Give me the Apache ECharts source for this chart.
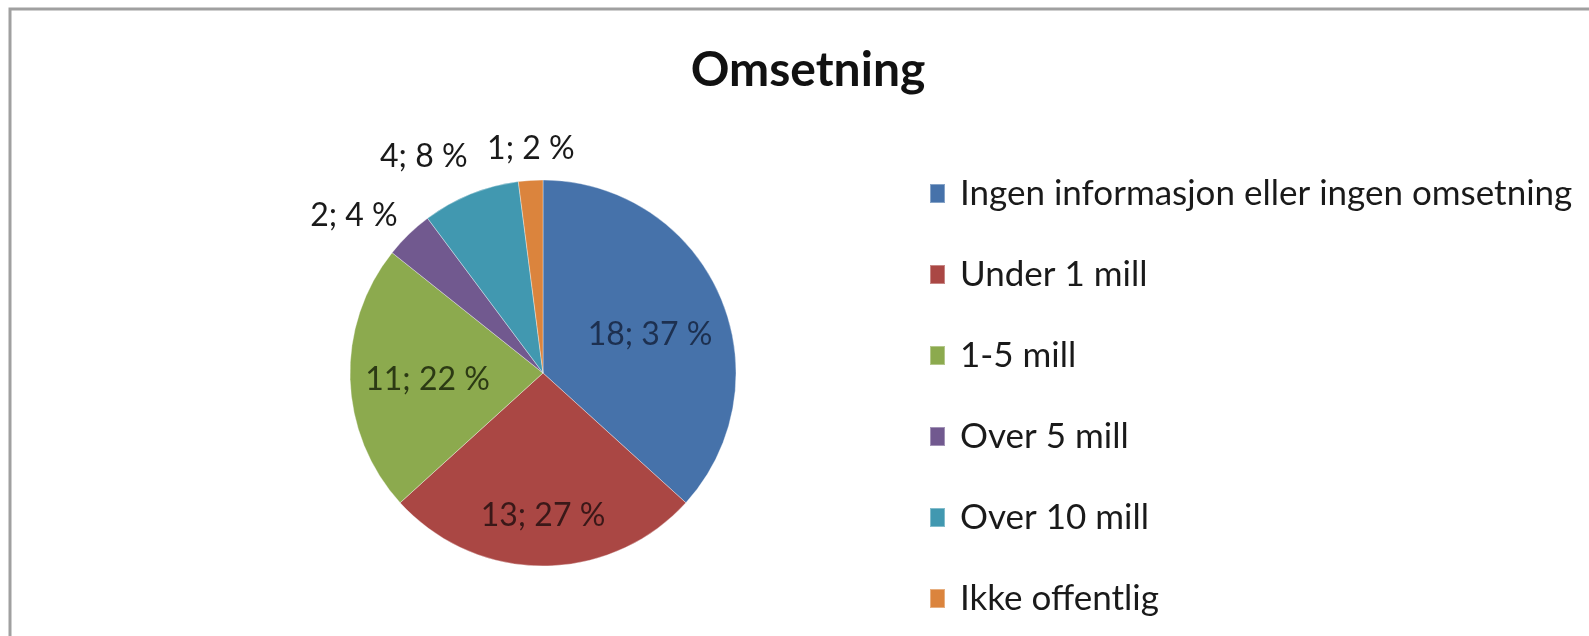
<!DOCTYPE html>
<html>
<head>
<meta charset="utf-8">
<title>Omsetning</title>
<script src="https://cdn.jsdelivr.net/npm/echarts@6/dist/echarts.min.js"></script>
<style>
  html, body { margin: 0; padding: 0; background: #fff; overflow: hidden; }
  #chart { width: 1589px; height: 636px; }
</style>
</head>
<body>
<div id="chart"></div>
<script>
// data
var categories = [
  'Ingen informasjon eller ingen omsetning',
  'Under 1 mill',
  '1-5 mill',
  'Over 5 mill',
  'Over 10 mill',
  'Ikke offentlig'
]
var counts = [18, 13, 11, 2, 4, 1]
var colors = ['#4672AA', '#AA4744', '#8CAA4E', '#71598F', '#4198B0', '#DB843D']

// per-slice label placement (inside for big slices, above for small ones)
var labelStyles = [
  { position: 'inner', offset: [16, 2], color: '#1d3050' },
  { position: 'inner', offset: [0, 43], color: '#3a1818' },
  { position: 'inner', offset: [-16, 3], color: '#2c3a14' },
  { position: 'outside', offset: [-6, -19], color: '#1a1a1a' },
  { position: 'outside', offset: [2, -37], color: '#1a1a1a' },
  { position: 'outside', offset: [49, -32], color: '#1a1a1a' }
]

var total = counts.reduce(function(a, b) { return a + b }, 0)

var chart = echarts.init(document.getElementById('chart'), null, { renderer: 'canvas' })

chart.setOption({
  animation: false,
  color: colors,
  textStyle: { fontFamily: 'Lato' },
  graphic: [{
    type: 'rect',
    silent: true,
    shape: { x: 10, y: 9, width: 1700, height: 700 },
    style: { fill: 'none', stroke: '#a0a0a0', lineWidth: 3 }
  }],
  title: {
    text: 'Omsetning',
    left: 803,
    top: 42,
    textAlign: 'center',
    textStyle: { fontFamily: 'Lato', fontWeight: 'bold', fontSize: 48, color: '#111' }
  },
  legend: {
    orient: 'vertical',
    left: 924,
    top: 171,
    itemWidth: 15,
    itemHeight: 19,
    itemGap: 46,
    icon: 'rect',
    textStyle: { fontFamily: 'Lato', fontSize: 35, lineHeight: 34, color: '#1a1a1a', padding: [0, 0, 0, 10] },
    data: categories
  },
  series: [{
    type: 'pie',
    center: [543, 373],
    radius: 193,
    startAngle: 90,
    clockwise: true,
    avoidLabelOverlap: false,
    itemStyle: { borderColor: 'rgba(255,255,255,0.35)', borderWidth: 1 },
    labelLine: { show: false, length: 0, length2: 0 },
    label: {
      fontFamily: 'Lato',
      fontSize: 32,
      formatter: function(p) {
        return p.value + '; ' + Math.round(p.value / total * 100) + ' %'
      }
    },
    emphasis: { disabled: true },
    data: categories.map(function(name, i) {
      return {
        name: name,
        value: counts[i],
        label: labelStyles[i]
      }
    })
  }]
})
</script>
</body>
</html>
